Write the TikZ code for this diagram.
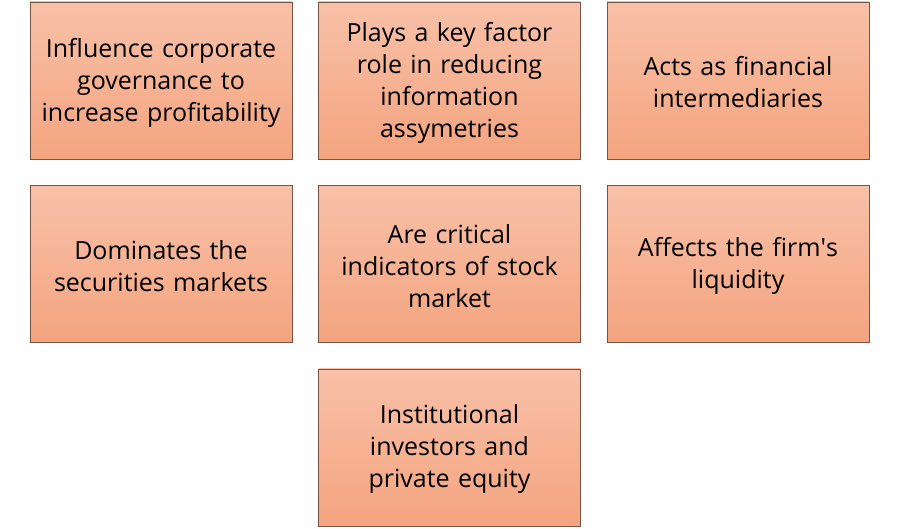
\documentclass[tikz,border=0pt]{standalone}
\usepackage{fontspec}
\setmainfont{Open Sans}
\definecolor{boxtop}{HTML}{F8C1A8}
\definecolor{boxbot}{HTML}{F4A47F}
\definecolor{boxline}{HTML}{765546}
\tikzset{
  factbox/.style={draw=boxline,line width=.8pt,top color=boxtop,bottom color=boxbot,
    minimum width=262pt,minimum height=157pt,inner sep=0pt},
  facttext/.style={inner sep=1pt,align=center,text width=260pt,
    font=\fontsize{25}{32}\selectfont}
}

\begin{document}
\begin{tikzpicture}[x=1pt,y=-1pt]
\useasboundingbox (0,0) rectangle (900,529);
\foreach \x/\y/\nm/\lab in {161/80.5/infl/{Influence corporate\\governance to\\increase profitability},
  449.5/80.5/plays/{Plays a key factor\\role in reducing\\information\\assymetries},
  738/80.5/acts/{Acts as financial\\intermediaries},
  161/264/domi/{Dominates the\\securities markets},
  449.5/264/crit/{Are critical\\indicators of stock\\market},
  738/264/affe/{Affects the firm\textquotesingle s\\liquidity},
  449.5/447.5/inst/{Institutional\\investors and\\private equity}}{
 \node[factbox] (\nm) at (\x,\y) {};
 \node[facttext] (\nm-t) at ([yshift=-2pt]\nm.center) {\lab};
}
\end{tikzpicture}
\end{document}
